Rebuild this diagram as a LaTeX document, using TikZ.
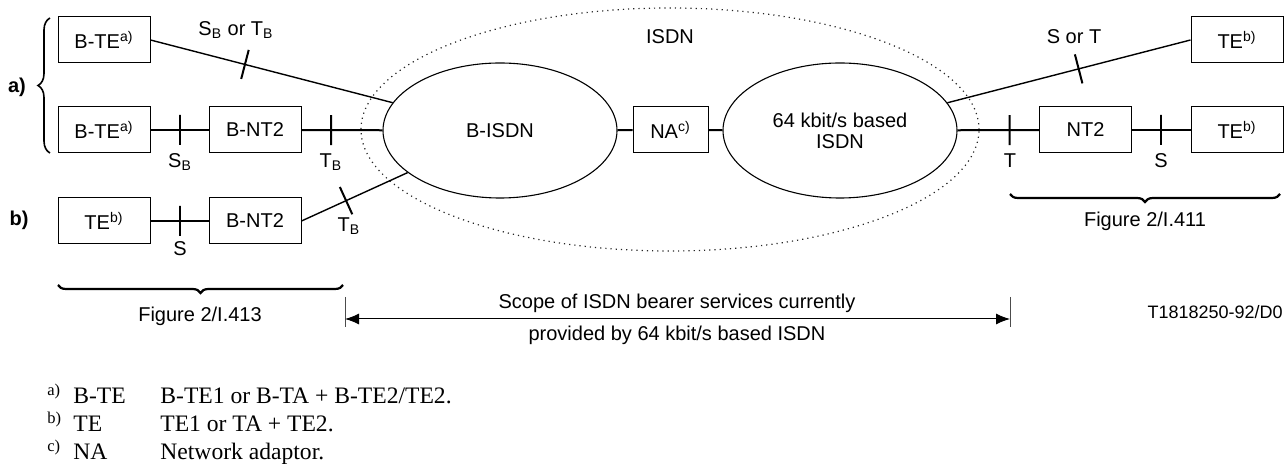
\documentclass[tikz,border=0pt]{standalone}
\usepackage{fontspec}
\setmainfont{Liberation Sans}
\newfontfamily\notefont{Liberation Serif}
\usetikzlibrary{shapes,decorations.pathreplacing,arrows.meta}

\begin{document}
\begin{tikzpicture}[x=0.5pt,y=-0.5pt,font=\fontsize{10}{12}\selectfont]
		\tikzstyle{unit}=[draw, line width=0.5pt, minimum width=46pt, minimum height=23pt, inner sep=0pt]
		\tikzstyle{net}=[draw, ellipse, line width=0.55pt, minimum width=117pt, minimum height=67.5pt, inner sep=0pt, align=center]
		\tikzstyle{isdn_border}=[draw=black!85, dotted, ellipse, line width=0.6pt, minimum width=309pt, minimum height=121.5pt]
		\tikzstyle{link}=[line width=1pt]
		\tikzstyle{thin_link}=[line width=0.55pt]
		\tikzstyle{diag_link}=[line width=0.7pt]
		\tikzstyle{tickmark}=[draw, sloped, line width=1pt, minimum width=0pt, minimum height=15pt, inner sep=0pt]
		\tikzstyle{ref_text}=[inner sep=1pt]
		\tikzstyle{group_brace}=[decorate, decoration={brace, amplitude=4pt}, line width=1.1pt]
		\tikzstyle{note}=[font=\notefont\fontsize{11.8}{14}\selectfont, anchor=base west, inner sep=0pt]

		\useasboundingbox (0,0) rectangle (1286,464);

		% ISDN networks
		\begin{scope}
			\node [net] (bisdn) at (500,130.5) {B-ISDN};
			\node [net, font=\fontsize{10}{10.5}\selectfont] (nisdn) at (840,130.5) {64 kbit/s based\\ISDN};
			\node [unit, minimum width=37.5pt] (na) at (670.5,130) {NA\textsuperscript{c)}};
			\node [isdn_border] (isdn) at (670,129.5) {};
			\node [ref_text] (isdn-text) at (670,37) {ISDN};

			\draw [link] (bisdn) -- (na);
			\draw [link] (na) -- (nisdn);
		\end{scope}

		% configuration a)
		\begin{scope}
			\node [unit] (bte-1) at (104,40) {B-TE\textsuperscript{a)}};
			\node [unit] (bte-2) at (104,130) {B-TE\textsuperscript{a)}};
			\node [unit] (bnt2-1) at (255,130) {B-NT2};
			\node [ref_text, font=\fontsize{10}{12}\selectfont\bfseries] (conf-a) at (17,87) {a)};

			\draw [diag_link] (bte-1.east) -- node [tickmark, pos=0.39] (tick-1) {} (bisdn);
			\draw [link] (bte-2) -- node [tickmark] (tick-2) {} (bnt2-1);
			\draw [link] (bnt2-1) -- node [tickmark, pos=0.366] (tick-3) {} (bisdn);

			\node [ref_text] (sb-tb) at (236,30) {S\textsubscript{B} or T\textsubscript{B}};
			\node [ref_text] (sb-1) at (180,162) {S\textsubscript{B}};
			\node [ref_text] (tb-1) at (331,162) {T\textsubscript{B}};

			\draw [decorate, decoration={brace, amplitude=6pt}, line width=0.8pt] (50,153) -- (50,18);
		\end{scope}

		% configuration b)
		\begin{scope}
			\node [unit] (te-3) at (104,221) {TE\textsuperscript{b)}};
			\node [unit] (bnt2-2) at (255,221) {B-NT2};
			\node [ref_text, font=\fontsize{10}{12}\selectfont\bfseries] (conf-b) at (19,220) {b)};

			\draw [thin_link] (te-3) -- node [tickmark] (tick-4) {} (bnt2-2);
			\draw [diag_link] (bnt2-2.east) -- node [tickmark, pos=0.42] (tick-5) {} (bisdn);

			\node [ref_text] (s-1) at (180,249) {S};
			\node [ref_text] (tb-2) at (349,226) {T\textsubscript{B}};

			\draw [group_brace] (343,285) -- (58,285);
			\node [ref_text] (fig-413) at (200,316) {Figure 2/I.413};
		\end{scope}

		% 64 kbit/s side
		\begin{scope}
			\node [unit] (te-1) at (1237,40) {TE\textsuperscript{b)}};
			\node [unit] (nt2) at (1085.5,130) {NT2};
			\node [unit] (te-2) at (1237,130) {TE\textsuperscript{b)}};

			\draw [diag_link] (te-1.west) -- node [tickmark, pos=0.46] (tick-8) {} (nisdn);
			\draw [link] (nisdn) -- node [tickmark, pos=0.64] (tick-6) {} (nt2);
			\draw [link] (nt2) -- node [tickmark] (tick-7) {} (te-2);

			\node [ref_text] (s-or-t) at (1074,37) {S or T};
			\node [ref_text] (t-2) at (1010,161) {T};
			\node [ref_text] (s-2) at (1161,161) {S};

			\draw [group_brace] (1280,194) -- (1010,194);
			\node [ref_text] (fig-411) at (1145,221) {Figure 2/I.411};
		\end{scope}

		% scope of bearer services
		\coordinate (scope-l) at (345,319);
		\coordinate (scope-r) at (1010,319);
		\draw [black!70, line width=0.5pt] ([yshift=11pt]scope-l) -- ([yshift=-4pt]scope-l);
		\draw [black!70, line width=0.5pt] ([yshift=11pt]scope-r) -- ([yshift=-4pt]scope-r);
		\draw [{Latex[length=7pt,width=5.5pt]}-{Latex[length=7pt,width=5.5pt]}, line width=0.5pt] (scope-l) -- (scope-r);
		\node [ref_text] (scope-1) at (677,303) {Scope of ISDN bearer services currently};
		\node [ref_text] (scope-2) at (677,335) {provided by 64 kbit/s based ISDN};

		\node [ref_text, anchor=east, font=\fontsize{9}{11}\selectfont] (fig-id) at (1285,312) {T1818250-92/D0};

		% notes
		\node [note] (note-a) at (47,404) {\textsuperscript{a)}};
		\node [note] (note-a-key) at (73,404) {B-TE};
		\node [note] (note-a-text) at (160,404) {B-TE1 or B-TA + B-TE2/TE2.};
		\node [note] (note-b) at (47,432) {\textsuperscript{b)}};
		\node [note] (note-b-key) at (73,432) {TE};
		\node [note] (note-b-text) at (160,432) {TE1 or TA + TE2.};
		\node [note] (note-c) at (47,460) {\textsuperscript{c)}};
		\node [note] (note-c-key) at (73,460) {NA};
		\node [note] (note-c-text) at (160,460) {Network adaptor.};

	\end{tikzpicture}
\end{document}
